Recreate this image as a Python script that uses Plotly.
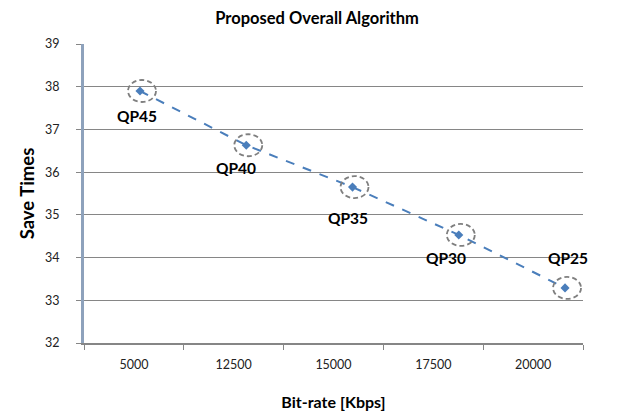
import plotly.graph_objects as go

categories = ["5000", "12500", "15000", "17500", "20000"]
save_times = [37.90, 36.63, 35.65, 34.53, 33.29]
qp_labels = ["QP45", "QP40", "QP35", "QP30", "QP25"]
label_dx = [-3, -10, -5, -13, 3]
label_dy = [25, 23, 31, 23, -30]

idx = list(range(len(categories)))
FONT = "Lato"

fig = go.Figure()
# category axis carrier (invisible)
fig.add_trace(go.Scatter(x=categories, y=save_times, mode="markers",
                         marker=dict(opacity=0), hoverinfo="skip",
                         showlegend=False, xaxis="x", yaxis="y"))
# data line on overlay axis
fig.add_trace(go.Scatter(x=idx, y=save_times, mode="lines+markers",
                         line=dict(color="#4A7EBB", width=2, dash="dash"),
                         marker=dict(symbol="diamond", size=7, color="#4A7EBB"),
                         showlegend=False, xaxis="x2", yaxis="y"))

shapes = []
annotations = []
for i, (v, lab, dx, dy) in enumerate(zip(save_times, qp_labels, label_dx, label_dy)):
    shapes.append(dict(type="circle", xref="x2", yref="y",
                       xsizemode="pixel", ysizemode="pixel",
                       xanchor=i, yanchor=v,
                       x0=-12, x1=16, y0=-11, y1=11,
                       line=dict(color="#7F7F7F", width=1.8, dash="5px,3px"),
                       fillcolor="rgba(0,0,0,0)"))
    annotations.append(dict(x=i, y=v, xref="x2", yref="y", text="<b>" + lab + "</b>",
                            showarrow=False, xshift=dx, yshift=-dy,
                            font=dict(family=FONT, size=15.5, color="#000000")))

fig.update_layout(
    width=618, height=413,
    margin=dict(l=84, r=35, t=44, b=70),
    paper_bgcolor="white", plot_bgcolor="white",
    title=dict(text="<b>Proposed Overall Algorithm</b>", x=0.513, xanchor="center",
               y=0.955, yanchor="middle",
               font=dict(family=FONT, size=16.5, color="#000000")),
    shapes=shapes,
    annotations=annotations,
    xaxis=dict(type="category", range=[-0.5, 4.5], tickson="boundaries",
               automargin=False,
               ticks="outside", ticklen=5, tickcolor="#868686", tickwidth=1,
               showline=True, linecolor="#868686", linewidth=1.5,
               showgrid=False, zeroline=False,
               tickfont=dict(family=FONT, size=12.5, color="#222222"),
               ticklabelstandoff=9,
               title=dict(text="<b>Bit-rate [Kbps]</b>", standoff=26,
                          font=dict(family=FONT, size=16, color="#000000"))),
    xaxis2=dict(overlaying="x", range=[-0.527, 4.169], visible=False),
    yaxis=dict(range=[32, 39], dtick=1, ticks="outside", ticklen=5,
               automargin=False,
               tickcolor="#868686", tickwidth=1,
               showline=True, linecolor="#8EA2BC", linewidth=3,
               showgrid=True, gridcolor="#868686", gridwidth=1.2,
               zeroline=False,
               tickfont=dict(family=FONT, size=12.5, color="#222222"),
               ticklabelstandoff=14,
               title=dict(text="<b>Save Times</b>", standoff=6,
                          font=dict(family=FONT, size=18.5, color="#000000"))),
)

fig.write_html("out.html")
